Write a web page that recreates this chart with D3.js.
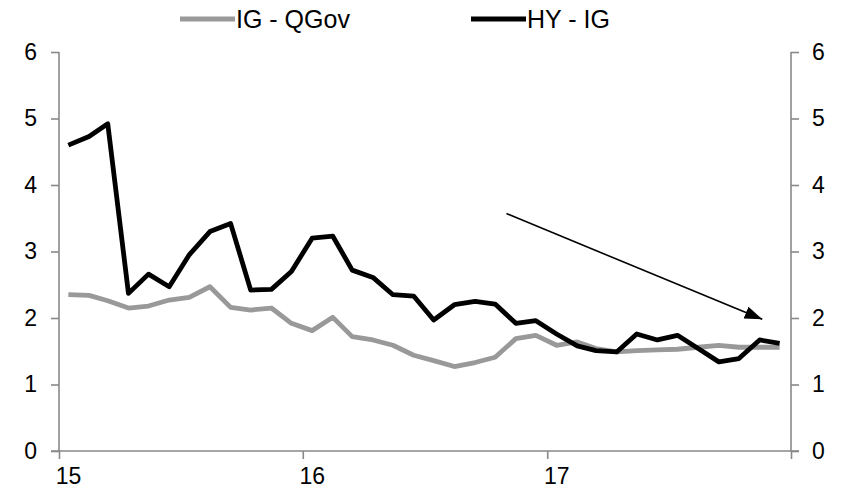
<!DOCTYPE html>
<html>
<head>
<meta charset="utf-8">
<script src="https://cdn.jsdelivr.net/npm/d3@7"></script>
<style>
  html, body { margin: 0; padding: 0; background: #fff; }
  svg text { font-family: "Liberation Sans", Arial, sans-serif; fill: #000; }
</style>
</head>
<body>
<svg id="chart" width="849" height="497"></svg>
<script>
// ---- data ----
const months = d3.range(36).map(i => new Date(2015, i, 15));
const igQGov = [2.35, 2.34, 2.26, 2.15, 2.18, 2.27, 2.31, 2.47, 2.16, 2.12, 2.15, 1.92,
                1.81, 2.01, 1.72, 1.67, 1.59, 1.44, 1.36, 1.27, 1.33, 1.41, 1.69, 1.74,
                1.59, 1.64, 1.54, 1.49, 1.51, 1.52, 1.53, 1.56, 1.59, 1.56, 1.56, 1.56];
const hyIG = [4.60, 4.73, 4.92, 2.37, 2.66, 2.47, 2.95, 3.30, 3.42, 2.42, 2.43, 2.70,
              3.20, 3.23, 2.72, 2.61, 2.35, 2.33, 1.97, 2.20, 2.25, 2.21, 1.92, 1.96,
              1.76, 1.58, 1.51, 1.49, 1.76, 1.67, 1.74, 1.54, 1.34, 1.39, 1.67, 1.62];
const seriesNames = ["IG - QGov", "HY - IG"];
const seriesColors = ["#999999", "#000000"];
const xTickDates = [new Date(2015, 0, 1), new Date(2016, 0, 1), new Date(2017, 0, 1), new Date(2018, 0, 1)];
const xTickLabels = ["15", "16", "17", ""];
const yTicks = [0, 1, 2, 3, 4, 5, 6];
// trend arrow annotation (start / end in data coordinates)
const arrowFrom = [new Date(2016, 10, 1), 3.57];
const arrowTo = [new Date(2017, 10, 19), 1.98];

// ---- layout ----
const svg = d3.select("#chart");
const mLeft = 59, mRight = 791, mTop = 52, mBottom = 451;
const x = d3.scaleTime().domain([new Date(2015, 0, 1), new Date(2018, 0, 1)]).range([mLeft, mRight]);
const y = d3.scaleLinear().domain([0, 6]).range([mBottom, mTop]);
const axisColor = "#898989";
const axisFont = "23px";

// axes
const gx = svg.append("g").attr("transform", `translate(0,${mBottom})`)
  .call(d3.axisBottom(x).tickValues(xTickDates).tickFormat((d, i) => xTickLabels[i]).tickSize(8).tickPadding(9));
gx.selectAll("text").attr("text-anchor", "middle").attr("dx", 9).style("font-size", axisFont);

const gyl = svg.append("g").attr("transform", `translate(${mLeft},0)`)
  .call(d3.axisLeft(y).tickValues(yTicks).tickFormat(d3.format("d")).tickSize(8).tickPadding(14));
gyl.selectAll("text").style("font-size", axisFont);

const gyr = svg.append("g").attr("transform", `translate(${mRight},0)`)
  .call(d3.axisRight(y).tickValues(yTicks).tickFormat(d3.format("d")).tickSize(8).tickPadding(13));
gyr.selectAll("text").style("font-size", axisFont);

[gx, gyl, gyr].forEach(g => {
  g.select(".domain").attr("stroke", axisColor).attr("stroke-width", 1.6);
  g.selectAll(".tick line").attr("stroke", axisColor).attr("stroke-width", 1.6);
  g.selectAll("text").attr("fill", "#000");
});
gx.select(".domain").attr("d", `M${mLeft - 8},0H${mRight + 8}`);
gyl.select(".domain").attr("d", `M0,${mTop}V${mBottom}`);
gyr.select(".domain").attr("d", `M0,${mTop}V${mBottom}`);

// lines
const line = d3.line().x((d, i) => x(months[i])).y(d => y(d));
[igQGov, hyIG].forEach((vals, k) => {
  svg.append("path").datum(vals)
    .attr("fill", "none")
    .attr("stroke", seriesColors[k])
    .attr("stroke-width", 4.8)
    .attr("stroke-linejoin", "round")
    .attr("d", line);
});

// arrow
const defs = svg.append("defs");
defs.append("marker").attr("id", "ah").attr("viewBox", "0 0 10 10")
  .attr("refX", 10).attr("refY", 5).attr("markerWidth", 11).attr("markerHeight", 11)
  .attr("markerUnits", "strokeWidth").attr("orient", "auto")
  .append("path").attr("d", "M0,1.4L10,5L0,8.6z").attr("fill", "#000");
svg.append("line")
  .attr("x1", x(arrowFrom[0])).attr("y1", y(arrowFrom[1]))
  .attr("x2", x(arrowTo[0])).attr("y2", y(arrowTo[1]))
  .attr("stroke", "#000").attr("stroke-width", 1.6)
  .attr("marker-end", "url(#ah)");

// legend
const legendX = [180, 471];
seriesNames.forEach((name, k) => {
  const g = svg.append("g").attr("transform", `translate(${legendX[k]},19)`);
  g.append("line").attr("x1", 0).attr("x2", 55).attr("y1", 0).attr("y2", 0)
    .attr("stroke", seriesColors[k]).attr("stroke-width", 4.8);
  g.append("text").attr("x", 56).attr("y", 9).style("font-size", "25px").text(name);
});
</script>
</body>
</html>
